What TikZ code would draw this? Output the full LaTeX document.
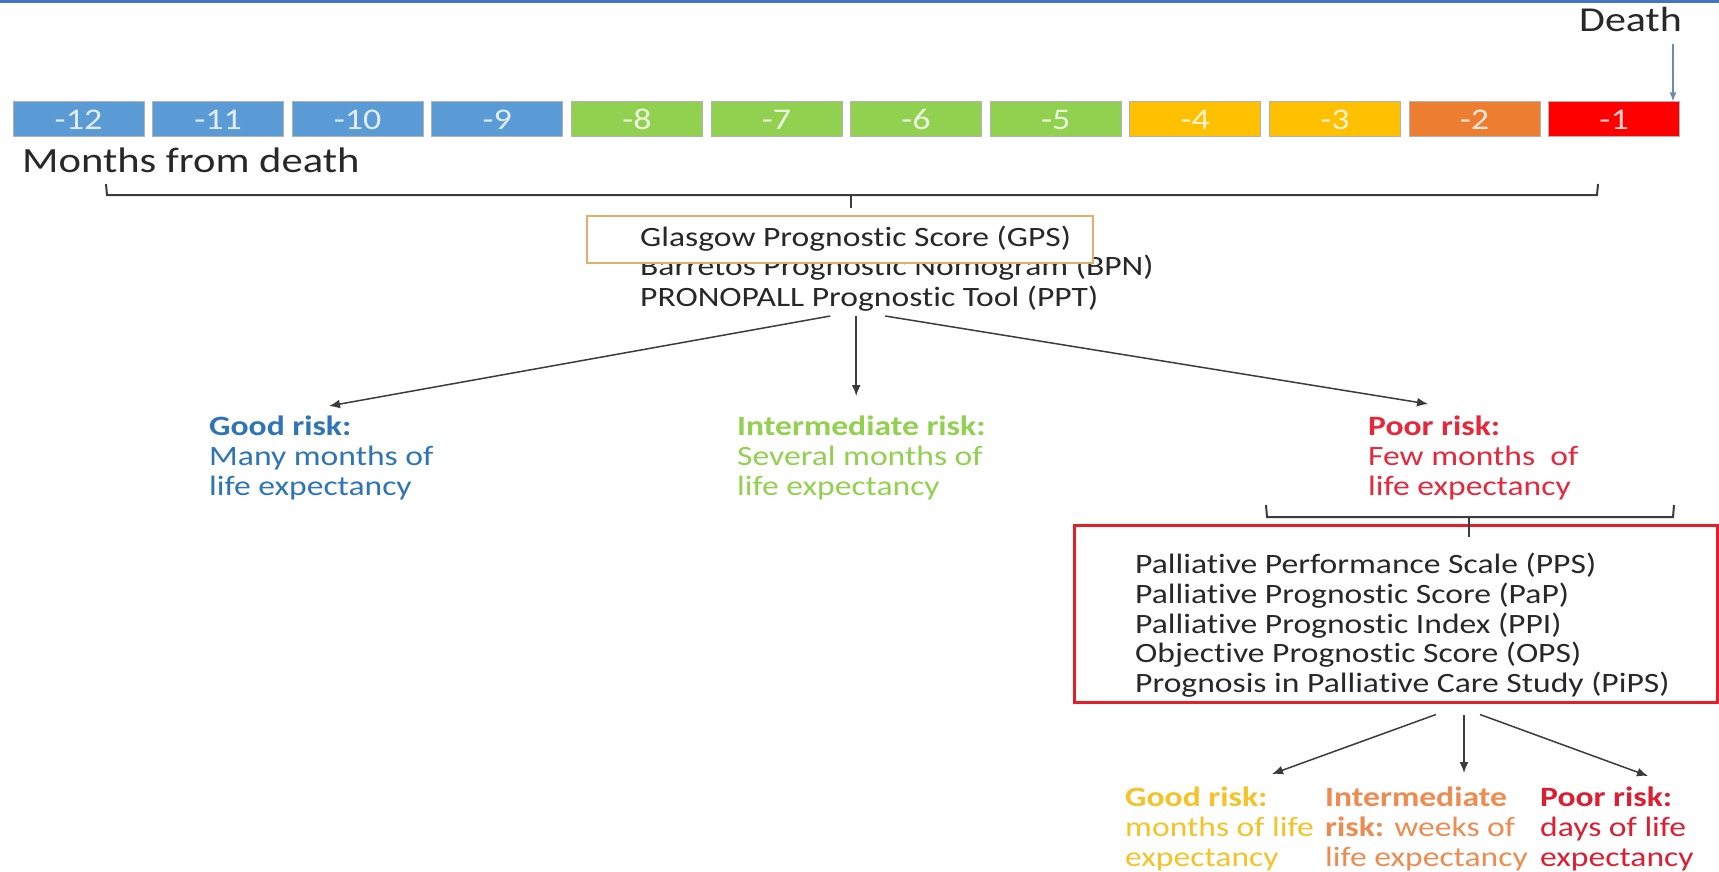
\documentclass[tikz,border=0pt]{standalone}
\usepackage{fontspec}
\setmainfont{Carlito}[FakeStretch=1.2, Ligatures={NoCommon,NoRare,NoContextual}]
\usetikzlibrary{arrows.meta}
\definecolor{cblue}{RGB}{91,155,213}
\definecolor{cgreen}{RGB}{146,208,80}
\definecolor{cgold}{RGB}{255,192,0}
\definecolor{corange}{RGB}{237,125,49}
\definecolor{cred}{RGB}{255,0,0}
\definecolor{topblue}{RGB}{68,114,196}
\definecolor{txtgrey}{RGB}{40,40,40}
\definecolor{linegrey}{RGB}{60,60,60}
\definecolor{steel}{RGB}{110,140,170}
\definecolor{tanbox}{RGB}{225,175,105}
\definecolor{boxred}{RGB}{230,30,40}
\definecolor{tgood}{RGB}{46,117,182}
\definecolor{tinter}{RGB}{146,208,80}
\definecolor{tpoor}{RGB}{230,40,60}
\definecolor{bgood}{RGB}{245,195,40}
\definecolor{binter}{RGB}{237,140,80}
\definecolor{bpoor}{RGB}{220,30,50}
\newcommand\myfs[1]{\fontsize{#1}{#1}\selectfont}
\begin{document}
\begin{tikzpicture}[x=1pt,y=-1pt,
  tbox/.style={draw=black!30, line width=1pt, minimum width=131pt, minimum height=35pt, inner sep=0pt, font=\myfs{30}},
  tl/.style={anchor=base west, inner sep=0pt, font=\myfs{28}, text=txtgrey},
  lbl/.style={anchor=base west, inner sep=0pt, font=\myfs{28}},
  arr/.style={draw=linegrey, line width=1.5pt, -{Latex[length=11pt,width=9pt]}},
  brk/.style={draw=linegrey, line width=2pt},
  gboxs/.style={draw=tanbox, line width=2.5pt, fill=white, minimum width=506pt, minimum height=47pt, inner sep=0pt},
  pboxs/.style={draw=boxred, line width=3pt, minimum width=643pt, minimum height=177pt, inner sep=0pt}]
\useasboundingbox (0,0) rectangle (1719,872);
\fill[white] (0,0) rectangle (1719,872);
\draw[topblue, line width=3pt] (0,1.5) -- (1719,1.5);
% timeline
\foreach \n/\c [count=\i from 0] in {12/cblue,11/cblue,10/cblue,9/cblue,8/cgreen,7/cgreen,6/cgreen,5/cgreen,4/cgold,3/cgold,2/corange,1/cred}
  \node[tbox, fill=\c, text=white!82!\c] (m\n) at ({78.5+139.6*\i},119.5) {-\n};
\node[anchor=base west, inner sep=0pt, font=\myfs{35}, text=txtgrey] (death) at (1579,32) {Death};
\coordinate (dtop) at (1673,44);
\draw[draw=steel, line width=1.3pt, -{Latex[length=9pt,width=7pt]}] (dtop) -- (dtop |- m1.north);
\node[anchor=base west, inner sep=0pt, font=\myfs{35.5}, text=txtgrey] (months) at (22,172) {Months from death};
% top bracket
\draw[brk] (106,184) -- (107,195) -- (1597,195) -- (1598,184);
\draw[brk] (851,195) -- (851,208);
% tools
\node[tl] (bpn) at (640,275) {Barretos Prognostic Nomogram (BPN)};
\node[tl] (ppt) at (640,306) {PRONOPALL Prognostic Tool (PPT)};
\node[gboxs] (gbox) at (840,239.5) {};
\node[tl] (gps) at (640,246) {Glasgow Prognostic Score (GPS)};
% risk groups
\node[lbl, text=tgood, font=\myfs{28}\bfseries] (g1) at (209,435) {Good risk:};
\node[lbl, text=tgood] (g2) at (209,465) {Many months of};
\node[lbl, text=tgood] (g3) at (209,495) {life expectancy};
\node[lbl, text=tinter, font=\myfs{28}\bfseries] (i1) at (737,435) {Intermediate risk:};
\node[lbl, text=tinter] (i2) at (737,465) {Several months of};
\node[lbl, text=tinter] (i3) at (737,495) {life expectancy};
\node[lbl, text=tpoor, font=\myfs{28}\bfseries] (p1) at (1368,435) {Poor risk:};
\node[lbl, text=tpoor] (p2) at (1368,465) {Few months\ \ of};
\node[lbl, text=tpoor] (p3) at (1368,495) {life expectancy};
\coordinate (s1) at ([xshift=-39pt,yshift=-5pt]ppt.south);
\coordinate (s2) at ([xshift=-13pt,yshift=-5pt]ppt.south);
\coordinate (s3) at ([xshift=16pt,yshift=-5pt]ppt.south);
\coordinate (e1) at (329,406);
\coordinate (e3) at (1428,404);
\draw[arr] (s1) -- (e1);
\draw[arr] (s2) -- (s2 |- 0,396);
\draw[arr] (s3) -- (e3);
% second bracket and box
\node[pboxs] (pbox) at (1395.5,613.5) {};
\draw[brk] (1266,505) -- (1267,517) -- (1673,517) -- (1674,505);
\draw[brk] (1469,517) -- (1469,537);
\node[tl] (pps) at (1135,573) {Palliative Performance Scale (PPS)};
\node[tl] (pap) at (1135,603) {Palliative Prognostic Score (PaP)};
\node[tl] (ppi) at (1135,633) {Palliative Prognostic Index (PPI)};
\node[tl] (ops) at (1135,662) {Objective Prognostic Score (OPS)};
\node[tl] (pips) at (1135,692) {Prognosis in Palliative Care Study (PiPS)};
% bottom groups
\node[lbl, text=bgood, font=\myfs{28}\bfseries] (bg1) at (1125,806) {Good risk:};
\node[lbl, text=bgood] (bg2) at (1125,836) {months of life};
\node[lbl, text=bgood] (bg3) at (1125,866) {expectancy};
\node[lbl, text=binter, font=\myfs{28}\bfseries] (bi1) at (1325,806) {Intermediate};
\node[lbl, text=binter] (bi2) at (1325,836) {\textbf{risk:} weeks of};
\node[lbl, text=binter] (bi3) at (1325,866) {life expectancy};
\node[lbl, text=bpoor, font=\myfs{28}\bfseries] (bp1) at (1540,806) {Poor risk:};
\node[lbl, text=bpoor] (bp2) at (1540,836) {days of life};
\node[lbl, text=bpoor] (bp3) at (1540,866) {expectancy};
\coordinate (f1) at (1272,774);
\coordinate (f3) at (1648,776);
\coordinate (t1) at ([xshift=40.5pt,yshift=-11pt]pbox.south);
\coordinate (t2) at ([xshift=68.5pt,yshift=-11pt]pbox.south);
\coordinate (t3) at ([xshift=84.5pt,yshift=-11pt]pbox.south);
\draw[arr] (t1) -- (f1);
\draw[arr] (t2) -- (t2 |- 0,773);
\draw[arr] (t3) -- (f3);
\end{tikzpicture}
\end{document}
